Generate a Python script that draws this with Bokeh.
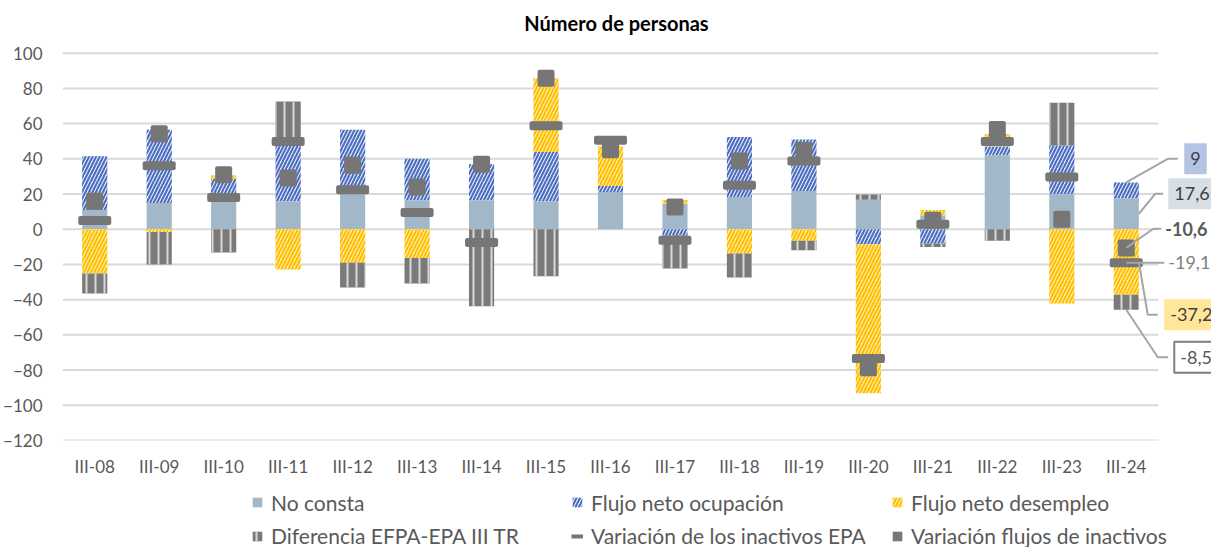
import numpy as np
from bokeh.plotting import figure
from bokeh.layouts import column
from bokeh.models import FixedTicker, Legend, LegendItem, Label, ColumnDataSource
from bokeh.embed import file_html
from bokeh.resources import INLINE

# ---------------- data ----------------
periods = ["III-08", "III-09", "III-10", "III-11", "III-12", "III-13", "III-14", "III-15", "III-16",
           "III-17", "III-18", "III-19", "III-20", "III-21", "III-22", "III-23", "III-24"]
no_consta = [11, 14.9, 15.5, 15.9, 20.2, 16.4, 16.4, 15.9, 21.2, 14.6, 18.3, 21.7, 16.8, 8, 42, 19.9, 17.6]
flujo_ocupacion = [30.5, 41.6, 13.2, 32.7, 36.3, 23.7, 20.5, 28, 3.4, -3.4, 34.1, 29.3, -8.7, -8.1, 5.1, 27.7, 9]
flujo_desempleo = [-25.2, -1.5, 2, -22.9, -19.1, -16.3, 0, 41.9, 22.5, 2, -13.8, -6.6, -84.5, 3, 7, -42.2, -37.2]
diferencia = [-11.3, -18.5, -13.2, 24, -14, -14.5, -43.7, -26.7, 0, -18.9, -13.6, -5.3, 3, -2, -6.6, 24.3, -8.5]
var_inactivos_epa = [4.9, 36.1, 18, 49.9, 22.5, 9.5, -7.6, 58.8, 50.5, -6.2, 25, 38.7, -73.4, 2.8, 49.9, 29.7, -19.1]
var_flujos_inactivos = [15.9, 54.3, 31, 29.1, 36.3, 24, 36.9, 85.8, 45.2, 12.7, 38.7, 44.8, -78.7, 5.1, 56.7, 5.7, -10.6]
y_ticks = [-120, -100, -80, -60, -40, -20, 0, 20, 40, 60, 80, 100]
legend_labels = ["No consta", "Flujo neto ocupación", "Flujo neto desempleo",
                 "Diferencia EFPA-EPA III TR", "Variación de los inactivos EPA", "Variación flujos de inactivos"]
title_text = "Número de personas"

FONT = "Lato"
TXT = "#595959"
n = len(periods)
xs = np.arange(n) + 0.5

# geometry of the plotting area (pixels)
XU = 1096 / n          # px per category
YU = 387.3 / 220       # px per unit of value
FW, FH = 1149, 432
y_top = -120 + FH / YU
x_end = FW / XU

p = figure(x_range=(0, x_end), y_range=(-120, y_top), frame_width=FW, frame_height=FH,
           min_border_left=56, min_border_right=0, min_border_top=8, min_border_bottom=40,
           output_backend="svg", toolbar_location=None, outline_line_color=None)
p.background_fill_color = "white"
p.border_fill_color = "white"

# ---------------- grid (only across the category area) ----------------
p.segment(x0=[0] * len(y_ticks), x1=[n] * len(y_ticks), y0=y_ticks, y1=y_ticks,
          line_color="#d9d9d9", line_width=2)

# ---------------- stacked bars ----------------
styles = [
    dict(fill_color="#a2b8c8"),
    dict(fill_color="#e3e9f6", hatch_pattern="/", hatch_color="#4a6cc0", hatch_weight=2, hatch_scale=7),
    dict(fill_color="#fff4d0", hatch_pattern="/", hatch_color="#ffc000", hatch_weight=2.2, hatch_scale=7),
    dict(fill_color="#7a7a7a", hatch_pattern="|", hatch_color="#d8d8d8", hatch_weight=2, hatch_scale=9),
]
series = [no_consta, flujo_ocupacion, flujo_desempleo, diferencia]
pos_base = np.zeros(n)
neg_base = np.zeros(n)
tops, bottoms = [], []
for s, st in zip(series, styles):
    v = np.array(s, dtype=float)
    bottom = np.where(v >= 0, pos_base, neg_base)
    top = bottom + v
    pos_base = np.where(v >= 0, top, pos_base)
    neg_base = np.where(v < 0, top, neg_base)
    tops.append(top)
    bottoms.append(bottom)
    src = ColumnDataSource(dict(x=xs, bottom=bottom, top=top))
    p.vbar(x="x", bottom="bottom", top="top", width=0.39, source=src, line_color=None, **st)

# ---------------- markers ----------------
MARK = "#767676"
p.rect(x=xs, y=var_inactivos_epa, width=33, height=9, width_units="screen", height_units="screen",
       fill_color=MARK, line_color=None, border_radius=2)
p.rect(x=xs, y=var_flujos_inactivos, width=17, height=17, width_units="screen", height_units="screen",
       fill_color=MARK, line_color=None, border_radius=2)

# ---------------- axes ----------------
p.xaxis.ticker = FixedTicker(ticks=list(xs))
p.xaxis.major_label_overrides = {float(x): lab for x, lab in zip(xs, periods)}
p.yaxis.ticker = FixedTicker(ticks=y_ticks)
for ax in (p.xaxis, p.yaxis):
    ax.axis_line_color = None
    ax.major_tick_line_color = None
    ax.minor_tick_line_color = None
    ax.major_tick_out = 0
    ax.major_tick_in = 0
    ax.major_label_text_font = FONT
    ax.major_label_text_font_size = "17px"
    ax.major_label_text_color = TXT
p.yaxis.major_label_standoff = 20
p.xaxis.major_label_standoff = 15
p.grid.visible = False

# ---------------- title ----------------
p.add_layout(Label(x=(618 - 64) / XU, y=100 + (52.7 - 22) / YU, text=title_text, text_align="center",
                   text_baseline="middle", text_font=FONT, text_font_style="bold",
                   text_font_size="20px", text_color="#000000"))

# ---------------- data labels for the last period ----------------
k = n - 1
def fmt(v):
    return str(int(v)) if float(v).is_integer() else f"{v:.1f}".replace(".", ",")

cx = xs[k]
half = 0.39 / 2
def ypx(page_y):
    return 100 + (52.7 - page_y) / YU
box_pad = dict(left=6, right=6, top=9, bottom=9)
# (anchor_x, anchor_y, elbow_dx_px, label_y, end_dx_px, text_dx_px, value, style)
ann = [
    (cx, tops[1][k], 41.5, ypx(158.3), 51.5, 58, flujo_ocupacion[k],
     dict(background_fill_color="#b4c4e4", text_color="#404040", padding=box_pad)),
    (cx + half, no_consta[k] / 2, 29, ypx(193.3), 37, 42, no_consta[k],
     dict(background_fill_color="#d6dee6", text_color="#404040", padding=box_pad)),
    (cx, var_flujos_inactivos[k], 27, ypx(228.3), 35, 39, var_flujos_inactivos[k],
     dict(text_color="#595959", text_font_style="bold")),
    (cx, var_inactivos_epa[k], None, var_inactivos_epa[k], 38, 42, var_inactivos_epa[k],
     dict(text_color="#7f7f7f")),
    (cx + half, flujo_desempleo[k] / 2, 21.5, ypx(314.3), 31.5, 38, flujo_desempleo[k],
     dict(background_fill_color="#ffe699", text_color="#404040", padding=box_pad)),
    (cx, bottoms[3][k] + diferencia[k], 31.5, ypx(356.7), 42, 48, diferencia[k],
     dict(background_fill_color="white", border_line_color="#7f7f7f", border_line_width=2,
          text_color="#595959", padding=box_pad)),
]
lx, ly = [], []
for ax_, ay_, edx, lyv, endx, tdx, val, st in ann:
    if edx is None:
        lx.append([ax_, cx + endx / XU]); ly.append([ay_, ay_])
    else:
        lx.append([ax_, cx + edx / XU, cx + endx / XU]); ly.append([ay_, lyv, lyv])
    p.add_layout(Label(x=cx + tdx / XU, y=lyv, text=fmt(val), text_align="left", text_baseline="middle",
                       text_font=FONT, text_font_size="18px", **st))
p.multi_line(xs=lx, ys=ly, line_color="#a6a6a6", line_width=2)

# ---------------- legend strip ----------------
LW, LH = 1205, 67
lf = figure(width=LW, height=LH, x_range=(0, LW), y_range=(0, LH), min_border=0,
            x_axis_type=None, y_axis_type=None, output_backend="svg", toolbar_location=None,
            outline_line_color=None)
lf.grid.visible = False
proxies = [lf.vbar(x=[-100], top=[-100], bottom=[-101], width=1, line_color=None, **st) for st in styles]
proxies.append(lf.segment(x0=[-100], y0=[-100], x1=[-99], y1=[-100], line_color=MARK, line_width=4))
proxies.append(lf.rect(x=[-100], y=[-100], width=1, height=1, fill_color=MARK, line_color=None))
col_x = [189, 509, 829]
row_y = [32.5, -1]
for i, (lab, r) in enumerate(zip(legend_labels, proxies)):
    lg = Legend(items=[LegendItem(label=lab, renderers=[r])], location=(col_x[i % 3], row_y[i // 3]),
                orientation="horizontal", glyph_width=12, glyph_height=12, label_standoff=8,
                padding=0, margin=0, spacing=0, border_line_color=None, background_fill_alpha=0,
                label_text_font=FONT, label_text_font_size="21px", label_text_color=TXT,
                label_height=24)
    lf.add_layout(lg, "center")

layout = column(p, lf, spacing=0)
open("out.html", "w").write(file_html(layout, INLINE))
